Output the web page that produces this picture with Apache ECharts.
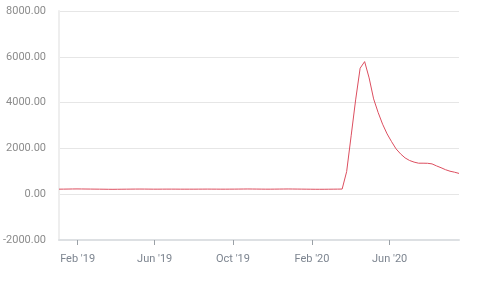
<!DOCTYPE html>
<html>
<head>
<meta charset="utf-8">
<script src="https://cdn.jsdelivr.net/npm/echarts@6/dist/echarts.min.js"></script>
<style>html,body{margin:0;padding:0;background:#fff}#c{width:480px;height:281px}</style>
</head>
<body>
<div id="c"></div>
<script>
// Weekly series starting 2019-01-03
const startDate = '2019-01-03';
const values = [
  220, 222, 225, 228, 230, 228, 226, 224, 222, 220,
  218, 215, 214, 216, 218, 220, 222, 224, 225, 224,
  222, 220, 220, 221, 222, 222, 221, 220, 220, 220,
  220, 221, 222, 223, 222, 221, 220, 220, 221, 222,
  224, 226, 228, 226, 224, 222, 220, 220, 222, 224,
  226, 228, 226, 224, 222, 220, 218, 216, 215, 216,
  218, 220, 222, 225, 987, 2550, 4118, 5502, 5790, 5079,
  4162, 3572, 3057, 2633, 2293, 1978, 1760, 1585, 1472, 1402,
  1354, 1354, 1350, 1323, 1236, 1157, 1070, 1004, 961, 908
];
const tickDates = ['2019-02-01', '2019-06-01', '2019-10-01', '2020-02-01', '2020-06-01'];
const tickLabels = ["Feb '19", "Jun '19", "Oct '19", "Feb '20", "Jun '20"];
const yTicks = [-2000, 0, 2000, 4000, 6000, 8000];

const DAY = 86400000;
const t0 = Date.parse(startDate + 'T00:00:00Z');
const seriesData = values.map((v, i) => [t0 + i * 7 * DAY, v]);
const tickTimes = tickDates.map(d => Date.parse(d + 'T00:00:00Z'));
const labelMap = {};
tickTimes.forEach((t, i) => { labelMap[t] = tickLabels[i]; });

const chart = echarts.init(document.getElementById('c'), null, {renderer: 'canvas'});
chart.setOption({
  animation: false,
  grid: {left: 58, right: 21, top: 11, bottom: 41, containLabel: false},
  xAxis: {
    type: 'value',
    min: seriesData[0][0],
    max: seriesData[seriesData.length - 1][0],
    axisLine: {show: true, onZero: false, lineStyle: {color: '#dde0e3', width: 2}},
    axisTick: {show: true, customValues: tickTimes, length: 5, lineStyle: {color: '#9aa0a6', width: 1}},
    axisLabel: {
      show: true,
      customValues: tickTimes,
      formatter: v => labelMap[v] || '',
      color: '#7d8590',
      fontFamily: 'Roboto',
      fontSize: 11,
      margin: 14
    },
    splitLine: {show: false}
  },
  yAxis: {
    type: 'value',
    min: yTicks[0],
    max: yTicks[yTicks.length - 1],
    interval: 2000,
    axisLine: {show: true, onZero: false, lineStyle: {color: '#eeeeee', width: 2}},
    axisTick: {show: false},
    axisLabel: {
      formatter: v => v.toFixed(2),
      color: '#8c8c8c',
      fontFamily: 'Roboto',
      fontSize: 11,
      margin: 13
    },
    splitLine: {show: true, lineStyle: {color: '#e6e6e6', width: 1}}
  },
  series: [{
    type: 'line',
    data: seriesData,
    showSymbol: false,
    symbol: 'none',
    lineStyle: {color: '#dc4e5f', width: 1},
    itemStyle: {color: '#dc4e5f'}
  }]
});
</script>
</body>
</html>
